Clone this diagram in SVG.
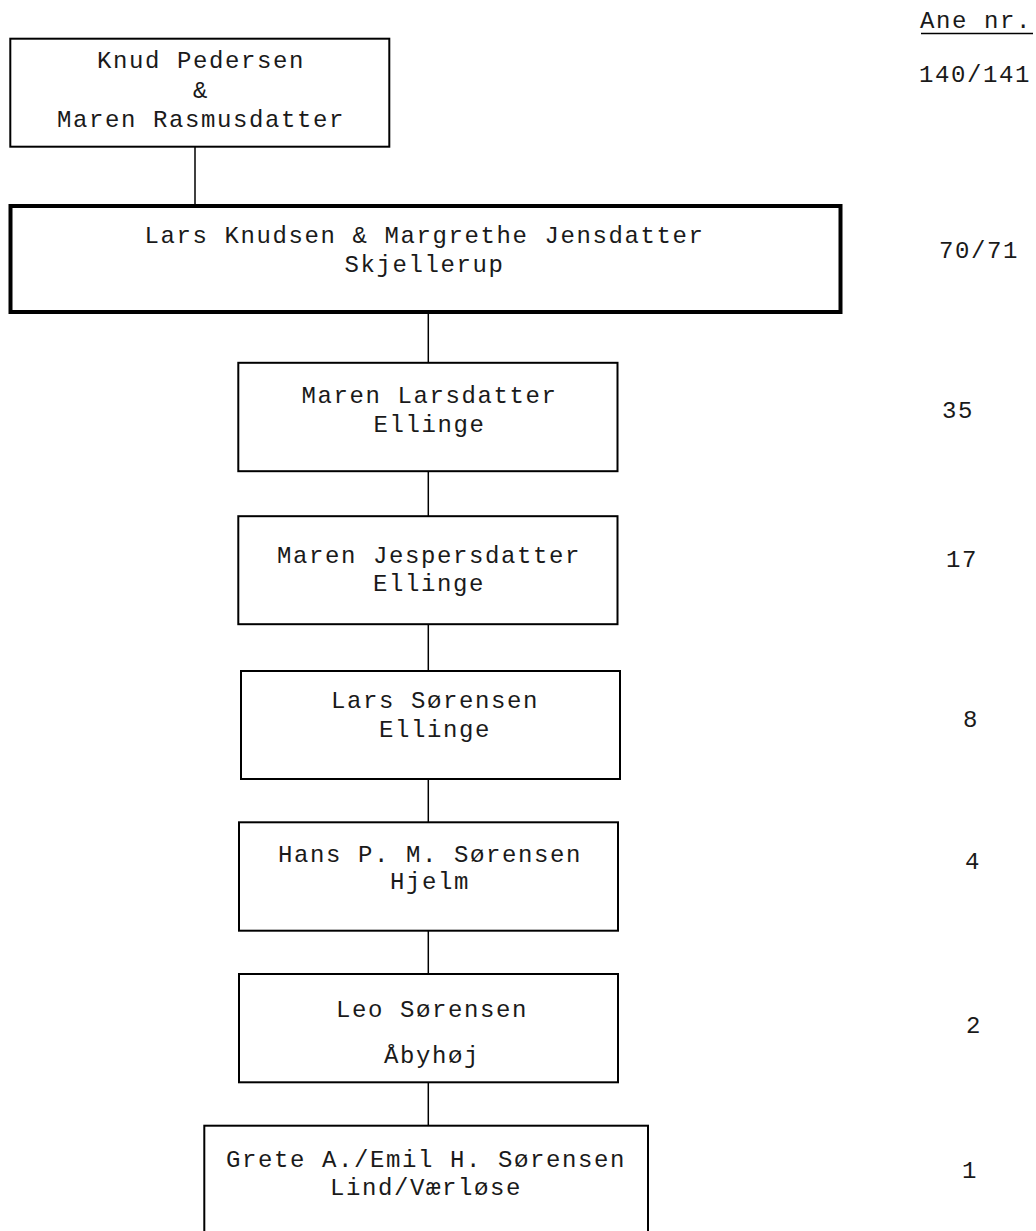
<svg xmlns="http://www.w3.org/2000/svg" width="1036" height="1231" viewBox="0 0 1036 1231">
<style>
  text { font-family: "Liberation Mono", "Courier New", monospace; font-size: 24px; letter-spacing: 1.6px; fill: #1a1a1a; }
  .c { text-anchor: middle; }
  .box { fill: #fff; stroke: #000; stroke-width: 2; }
  .thick { fill: #fff; stroke: #000; stroke-width: 4; }
  .conn line { stroke: #000; stroke-width: 1.5; }
</style>
<rect x="0" y="0" width="1036" height="1231" fill="#fff"/>
<g id="connectors" class="conn">
  <line x1="195" y1="147" x2="195" y2="205"/>
  <line x1="428.3" y1="313" x2="428.3" y2="363"/>
  <line x1="428.3" y1="471" x2="428.3" y2="516"/>
  <line x1="428.3" y1="624" x2="428.3" y2="671"/>
  <line x1="428.3" y1="779" x2="428.3" y2="822"/>
  <line x1="428.3" y1="931" x2="428.3" y2="974"/>
  <line x1="428.3" y1="1082" x2="428.3" y2="1126"/>
</g>
<g id="node-knud">
  <rect class="box" x="10.3" y="38.7" width="379" height="108"/>
  <text class="c" x="201" y="68">Knud Pedersen</text>
  <text class="c" x="201" y="98">&amp;</text>
  <text class="c" x="201" y="127">Maren Rasmusdatter</text>
</g>
<g id="node-lars-knudsen">
  <rect class="thick" x="10.5" y="206" width="830" height="106"/>
  <text class="c" x="424.5" y="243">Lars Knudsen &amp; Margrethe Jensdatter</text>
  <text class="c" x="424.5" y="272">Skjellerup</text>
</g>
<g id="node-maren-larsdatter">
  <rect class="box" x="238.3" y="362.8" width="379.2" height="108.4"/>
  <text class="c" x="429.5" y="403">Maren Larsdatter</text>
  <text class="c" x="429.5" y="432">Ellinge</text>
</g>
<g id="node-maren-jespersdatter">
  <rect class="box" x="238.3" y="516.2" width="379.2" height="108"/>
  <text class="c" x="429" y="563">Maren Jespersdatter</text>
  <text class="c" x="429" y="591">Ellinge</text>
</g>
<g id="node-lars-sorensen">
  <rect class="box" x="241" y="671" width="379" height="108"/>
  <text class="c" x="435" y="708">Lars Sørensen</text>
  <text class="c" x="435" y="737">Ellinge</text>
</g>
<g id="node-hans">
  <rect class="box" x="239" y="822.3" width="379" height="108.4"/>
  <text class="c" x="430" y="862">Hans P. M. Sørensen</text>
  <text class="c" x="430" y="889">Hjelm</text>
</g>
<g id="node-leo">
  <rect class="box" x="239" y="974" width="379" height="108.3"/>
  <text class="c" x="432" y="1017">Leo Sørensen</text>
  <text class="c" x="432" y="1063">Åbyhøj</text>
</g>
<g id="node-grete-emil">
  <rect class="box" x="204.3" y="1125.7" width="443.7" height="130"/>
  <text class="c" x="426" y="1167">Grete A./Emil H. Sørensen</text>
  <text class="c" x="426" y="1195">Lind/Værløse</text>
</g>
<g id="ane-numbers">
  <text x="920" y="28">Ane nr.</text>
  <line x1="921" y1="33.5" x2="1033" y2="33.5" stroke="#000" stroke-width="1.5"/>
  <text x="919" y="82">140/141</text>
  <text x="939" y="258">70/71</text>
  <text x="942" y="418">35</text>
  <text x="946" y="567">17</text>
  <text class="c" x="971" y="727">8</text>
  <text class="c" x="973" y="869">4</text>
  <text class="c" x="974" y="1033">2</text>
  <text class="c" x="970" y="1178">1</text>
</g>
</svg>
